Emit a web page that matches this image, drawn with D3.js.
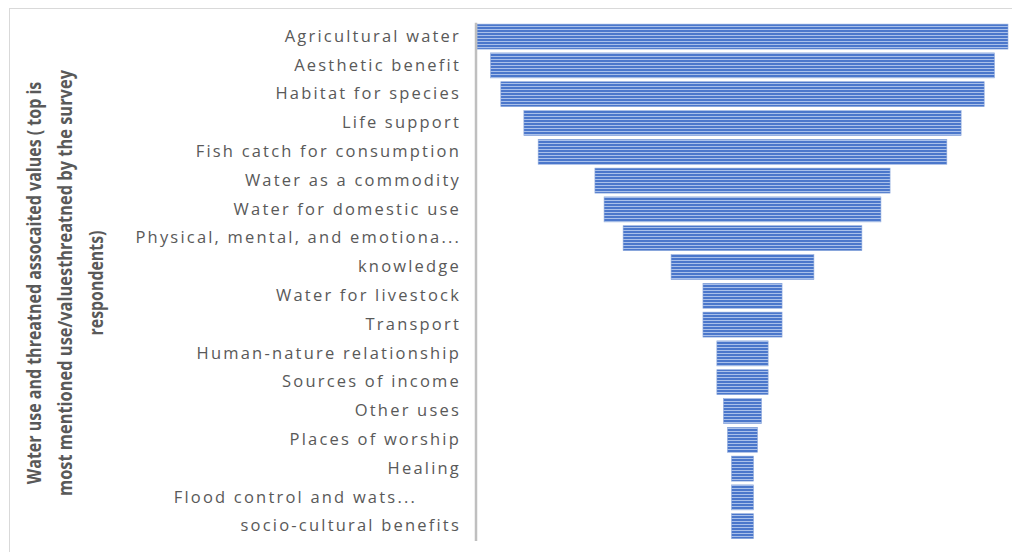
<!DOCTYPE html>
<html>
<head>
<meta charset="utf-8">
<script src="https://cdn.jsdelivr.net/npm/d3@7"></script>
<style>
  html, body { margin: 0; padding: 0; background: #ffffff; }
  svg { display: block; }
</style>
</head>
<body>
<svg id="chart" width="1012" height="552"></svg>
<script>
// Water uses and threatened associated values, most mentioned at the top
const categories = [
  "Agricultural water",
  "Aesthetic benefit",
  "Habitat for species",
  "Life support",
  "Fish catch for consumption",
  "Water as a commodity",
  "Water for domestic use",
  "Physical, mental, and emotiona...",
  "knowledge",
  "Water for livestock",
  "Transport",
  "Human-nature relationship",
  "Sources of income",
  "Other uses",
  "Places of worship",
  "Healing",
  "Flood control and wats...",
  "socio-cultural benefits"
];
const mentions = [72.5, 68.8, 66, 59.7, 55.8, 40.3, 37.8, 32.6, 19.5, 10.8, 10.8, 7, 7, 5.2, 4.1, 3, 3, 3];

const titleLines = [
  "Water use and threatned assocaited values  ( top is",
  "most mentioned use/valuesthreatned  by the survey",
  "respondents)"
];

const svg = d3.select("#chart");

// chart area frame
svg.append("rect")
  .attr("x", 9.5).attr("y", 8.5)
  .attr("width", 1020).attr("height", 560)
  .attr("fill", "#ffffff")
  .attr("stroke", "#d9d9d9").attr("stroke-width", 1);

// striped fill used by the funnel bars
const defs = svg.append("defs");
const pat = defs.append("pattern")
  .attr("id", "stripes")
  .attr("patternUnits", "userSpaceOnUse")
  .attr("width", 8).attr("height", 3);
pat.append("rect").attr("width", 8).attr("height", 3).attr("fill", "#4b77cb");
pat.append("rect").attr("y", 2).attr("width", 8).attr("height", 1).attr("fill", "#a9c0ea");

const axisX = 475.5;
const centerX = 742.5;
const maxHalf = 265.5;

const y = d3.scaleBand()
  .domain(categories)
  .range([22.2, 540.6])
  .paddingInner(0.132)
  .paddingOuter(0.066);

const w = d3.scaleLinear()
  .domain([0, d3.max(mentions)])
  .range([0, maxHalf * 2]);

const rows = categories.map((c, i) => ({ cat: c, value: mentions[i] }));

// funnel bars, centred on the plot midline
svg.append("g")
  .selectAll("rect")
  .data(rows)
  .join("rect")
  .attr("x", d => centerX - w(d.value) / 2)
  .attr("y", d => y(d.cat))
  .attr("width", d => w(d.value))
  .attr("height", y.bandwidth())
  .attr("fill", "url(#stripes)")
  .attr("stroke", "#8faadc")
  .attr("stroke-width", 0.6);

// category axis
const axis = svg.append("g")
  .attr("transform", `translate(${axisX},0)`)
  .call(d3.axisLeft(y).tickSize(0).tickPadding(14.5));
axis.select(".domain")
  .attr("stroke", "#bfbfbf")
  .attr("stroke-width", 2.5);
axis.selectAll(".tick text")
  .attr("fill", "#595959")
  .attr("font-family", "'Open Sans', sans-serif")
  .attr("font-size", 16.5)
  .attr("letter-spacing", 2.2)
  .attr("dx", d => d === "Flood control and wats..." ? -44 : 0);

// rotated, condensed axis title; each line is squeezed along its length
const titleLengths = [403, 426, 105];
const title = svg.append("g")
  .attr("transform", "translate(0,283) rotate(-90)");
title.selectAll("g")
  .data(titleLines)
  .join("g")
  .attr("transform", (d, i) => `translate(0,${41 + i * 31})`)
  .append("text")
  .attr("text-anchor", "middle")
  .attr("fill", "#595959")
  .attr("font-family", "'Open Sans', sans-serif")
  .attr("font-weight", 700)
  .attr("font-size", 19)
  .text(d => d)
  .attr("transform", function (d, i) {
    const natural = this.getComputedTextLength();
    return `scale(${titleLengths[i] / natural},1)`;
  });
</script>
</body>
</html>
